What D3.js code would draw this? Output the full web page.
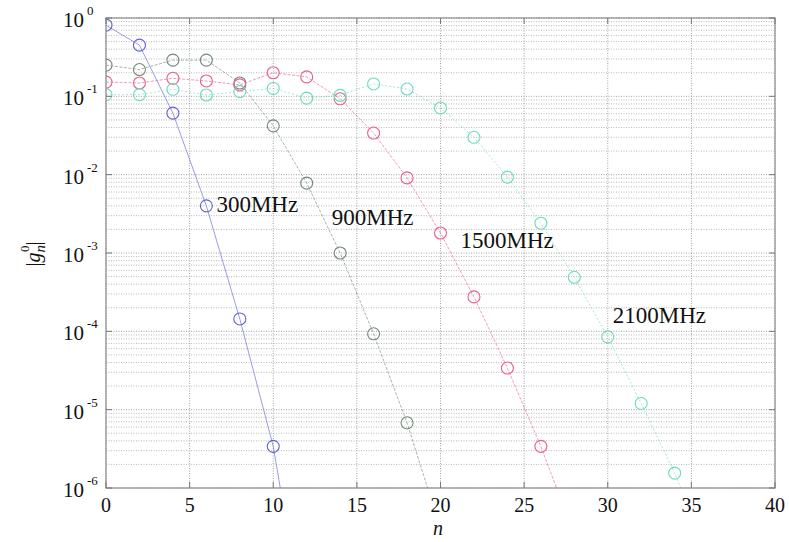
<!DOCTYPE html>
<html><head><meta charset="utf-8">
<script src="https://cdn.jsdelivr.net/npm/d3@7"></script>
<style>body{margin:0;background:#fff}svg{display:block}
svg text{font-family:"Times New Roman","Liberation Serif",Times,"DejaVu Serif",serif;}</style>
</head><body>
<svg id="c" width="789" height="542"></svg>
<script>
// ---- data ----
const nValues = [0,2,4,6,8,10,12,14,16,18,20,22,24,26,28,30,32,34,36];
const g300  = [0.81,0.45,0.061,0.0040,1.44e-4,3.4e-6,1e-8];
const g900  = [0.25,0.22,0.29,0.29,0.148,0.042,0.0078,0.0010,9.3e-5,6.8e-6,3e-7];
const g1500 = [0.152,0.148,0.17,0.157,0.14,0.20,0.177,0.093,0.034,0.0091,0.0018,2.75e-4,3.4e-5,3.4e-6,2.5e-7];
const g2100 = [0.105,0.105,0.123,0.104,0.115,0.126,0.095,0.103,0.144,0.124,0.071,0.030,0.0093,0.0024,4.9e-4,8.5e-5,1.2e-5,1.55e-6,1.5e-7];
const seriesNames = ["300MHz","900MHz","1500MHz","2100MHz"];
const seriesColors = ["#6262d6","#74887a","#e8608a","#6cdcbc"];
const seriesValues = [g300,g900,g1500,g2100];
const labelN = [6.6, 13.5, 21.2, 30.3];
const labelV = [4.2e-3, 2.9e-3, 1.45e-3, 1.6e-4];
const xTicks = [0,5,10,15,20,25,30,35,40];
const yExps = [0,-1,-2,-3,-4,-5,-6];

const svg = d3.select("#c");
const L=106,R=775,T=18,B=488;
const x = d3.scaleLinear().domain([0,40]).range([L,R]);
const y = d3.scaleLog().domain([1e-6,1]).range([B,T]);

// grid
const grid = svg.append("g");
for (let e=-6;e<0;e++) for (let k=2;k<=9;k++){
  const v=k*Math.pow(10,e);
  grid.append("line").attr("x1",L).attr("x2",R).attr("y1",y(v)).attr("y2",y(v))
    .attr("stroke","#a8a8a8").attr("stroke-width",0.8).attr("stroke-dasharray","1,1.5");
}
yExps.forEach(e=>{
  grid.append("line").attr("x1",L).attr("x2",R).attr("y1",y(Math.pow(10,e))).attr("y2",y(Math.pow(10,e)))
    .attr("stroke","#999").attr("stroke-width",0.9).attr("stroke-dasharray","1,1.5");
});
xTicks.forEach(t=>{
  grid.append("line").attr("x1",x(t)).attr("x2",x(t)).attr("y1",T).attr("y2",B)
    .attr("stroke","#999").attr("stroke-width",0.9).attr("stroke-dasharray","1,1.5");
});

svg.append("defs").append("clipPath").attr("id","pc").append("rect")
  .attr("x",L).attr("y",T).attr("width",R-L).attr("height",B-T);

const line = d3.line().x((d,i)=>x(nValues[i])).y(d=>y(d));
const plot = svg.append("g").attr("clip-path","url(#pc)");
seriesValues.forEach((vals,si)=>{
  plot.append("path").datum(vals).attr("d",line).attr("fill","none")
    .attr("stroke",seriesColors[si]).attr("stroke-width",0.9).attr("stroke-opacity",0.7)
    .attr("stroke-dasharray", si===3 ? "2,2" : (si===0 ? null : "3,1.5"));
  plot.selectAll(null).data(vals.filter(v=>v>=1e-6)).enter().append("circle")
    .attr("cx",(d,i)=>x(nValues[i])).attr("cy",d=>y(d)).attr("r",6)
    .attr("fill","none").attr("stroke",seriesColors[si]).attr("stroke-width",1.1);
});

svg.append("rect").attr("x",L).attr("y",T).attr("width",R-L).attr("height",B-T)
  .attr("fill","none").attr("stroke","#8c8c8c").attr("stroke-width",1.2);
xTicks.forEach(t=>{
  svg.append("line").attr("x1",x(t)).attr("x2",x(t)).attr("y1",B).attr("y2",B-6).attr("stroke","#777");
  svg.append("line").attr("x1",x(t)).attr("x2",x(t)).attr("y1",T).attr("y2",T+6).attr("stroke","#777");
});
yExps.forEach(e=>{
  const yy=y(Math.pow(10,e));
  svg.append("line").attr("x1",L).attr("x2",L+6).attr("y1",yy).attr("y2",yy).attr("stroke","#777");
  svg.append("line").attr("x1",R).attr("x2",R-6).attr("y1",yy).attr("y2",yy).attr("stroke","#777");
});

svg.selectAll(null).data(xTicks).enter().append("text")
  .attr("x",d=>x(d)).attr("y",B+24).attr("text-anchor","middle")
  .attr("font-size",20).attr("fill","#111").text(d=>d);
yExps.forEach(e=>{
  const yy=y(Math.pow(10,e));
  svg.append("text").attr("x",84).attr("y",yy+9).attr("text-anchor","end")
    .attr("font-size",21).attr("fill","#111").text("10");
  svg.append("text").attr("x",87).attr("y",yy-3).attr("font-size",13)
    .attr("fill","#111").text(e===0?"0":"-"+(-e));
});
svg.append("text").attr("x",438).attr("y",535).attr("text-anchor","middle")
  .attr("font-size",20).attr("font-style","italic").attr("fill","#111").text("n");
const yl = svg.append("text").attr("transform","translate(40,254) rotate(-90)")
  .attr("text-anchor","middle").attr("font-size",20).attr("fill","#111");
yl.append("tspan").text("|");
yl.append("tspan").attr("font-style","italic").text("g");
yl.append("tspan").attr("font-style","italic").attr("font-size",15).attr("dy",5).text("n");
yl.append("tspan").attr("font-size",13).attr("dx",-7).attr("dy",-16).text("0");
yl.append("tspan").attr("dy",11).text("|");

seriesNames.forEach((s,i)=>{
  svg.append("text").attr("x",x(labelN[i])).attr("y",y(labelV[i])+8)
    .attr("font-size",23).attr("fill","#111").text(s);
});
</script>
</body></html>
